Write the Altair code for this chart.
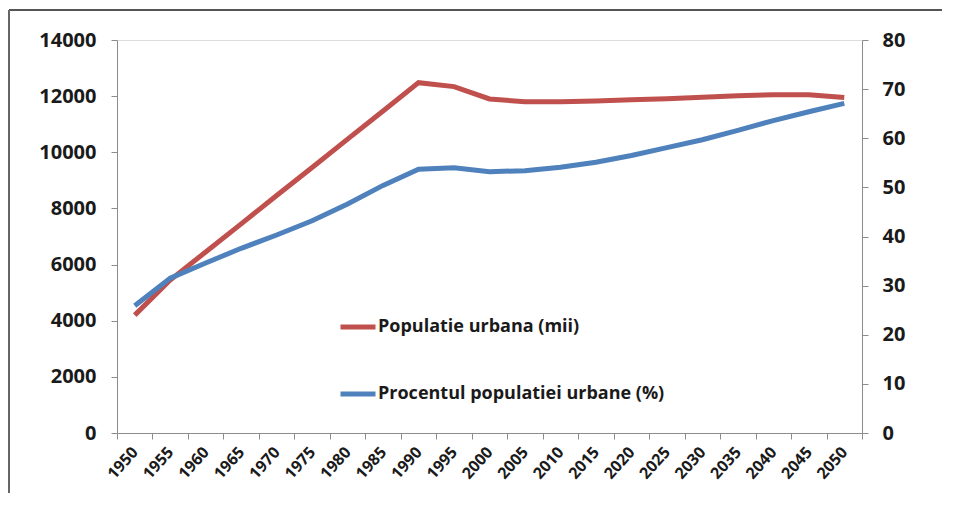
import altair as alt
import pandas as pd

years = [str(y) for y in range(1950, 2051, 5)]
pop_urban = [4200, 5450, 6450, 7450, 8460, 9460, 10470, 11470, 12480, 12340,
             11900, 11800, 11800, 11830, 11870, 11910, 11960, 12010, 12050, 12050, 11950]
pct_urban = [25.9, 31.5, 34.6, 37.6, 40.3, 43.2, 46.6, 50.4, 53.7, 54.0,
             53.2, 53.4, 54.1, 55.1, 56.5, 58.1, 59.7, 61.6, 63.6, 65.4, 67.1]
series_names = ["Populatie urbana (mii)", "Procentul populatiei urbane (%)"]
series_colors = ["#C0504D", "#4F81BD"]

df_pop = pd.DataFrame({"year": years, "value": pop_urban, "series": series_names[0]})
df_pct = pd.DataFrame({"year": years, "value": pct_urban, "series": series_names[1]})

FONT = "Open Sans"
LABEL_COLOR = "#1a1a1a"
AXIS_COLOR = "#8c8c8c"

x_enc = alt.X(
    "year:O",
    bandPosition=0.5,
    sort=years,
    scale=alt.Scale(type="band", paddingInner=0, paddingOuter=0),
    axis=alt.Axis(
        title=None, labelAngle=-48, labelAlign="right", labelBaseline="middle",
        labelPadding=10, labelFont=FONT, labelFontWeight="bold", labelFontSize=16,
        labelColor=LABEL_COLOR, tickBand="extent", domainColor=AXIS_COLOR,
        tickColor=AXIS_COLOR, tickSize=6, grid=False, labelOverlap=False,
    ),
)

color_enc = alt.Color(
    "series:N",
    scale=alt.Scale(domain=series_names, range=series_colors),
    legend=alt.Legend(
        title=None, orient="none", legendX=221, legendY=267, direction="vertical",
        symbolType="stroke", symbolSize=1225, symbolStrokeWidth=5, labelOffset=0,
        labelFont=FONT, labelFontWeight="bold", labelFontSize=18, labelColor=LABEL_COLOR,
        rowPadding=37, labelLimit=400,
    ),
)

pop_line = alt.Chart(df_pop).mark_line(strokeWidth=5).encode(
    x=x_enc,
    y=alt.Y(
        "value:Q",
        scale=alt.Scale(domain=[0, 14000], nice=False),
        axis=alt.Axis(
            title=None, values=list(range(0, 14001, 2000)), orient="left", format="d",
            labelFont=FONT, labelFontWeight="bold", labelFontSize=20,
            labelColor=LABEL_COLOR, domainColor=AXIS_COLOR, tickColor=AXIS_COLOR,
            tickSize=6, labelPadding=15, grid=False,
        ),
    ),
    color=color_enc,
)

pct_line = alt.Chart(df_pct).mark_line(strokeWidth=5).encode(
    x=x_enc,
    y=alt.Y(
        "value:Q",
        scale=alt.Scale(domain=[0, 80], nice=False),
        axis=alt.Axis(
            title=None, values=list(range(0, 81, 10)), orient="right", format="d",
            labelFont=FONT, labelFontWeight="bold", labelFontSize=20,
            labelColor=LABEL_COLOR, domainColor=AXIS_COLOR, tickColor=AXIS_COLOR,
            tickSize=6, labelPadding=14, grid=False,
        ),
    ),
    color=color_enc,
)

frame_top = alt.Chart(pd.DataFrame({"a": [0]})).mark_rule(color="#555555", strokeWidth=2).encode(
    x=alt.value(-108), x2=alt.value(850), y=alt.value(-30)
)
frame_left = alt.Chart(pd.DataFrame({"a": [0]})).mark_rule(color="#666666", strokeWidth=2).encode(
    x=alt.value(-108), y=alt.value(-30), y2=alt.value(480)
)

chart = alt.layer(pop_line, pct_line, frame_top, frame_left).resolve_scale(
    y="independent"
).properties(
    width=745, height=393,
    autosize=alt.AutoSizeParams(type="none"),
    padding={"left": 109, "top": 32, "right": 80, "bottom": 60},
).configure_view(stroke=None).configure(background="white")

chart.save("out.html", embed_options={"renderer": "svg", "actions": False})
